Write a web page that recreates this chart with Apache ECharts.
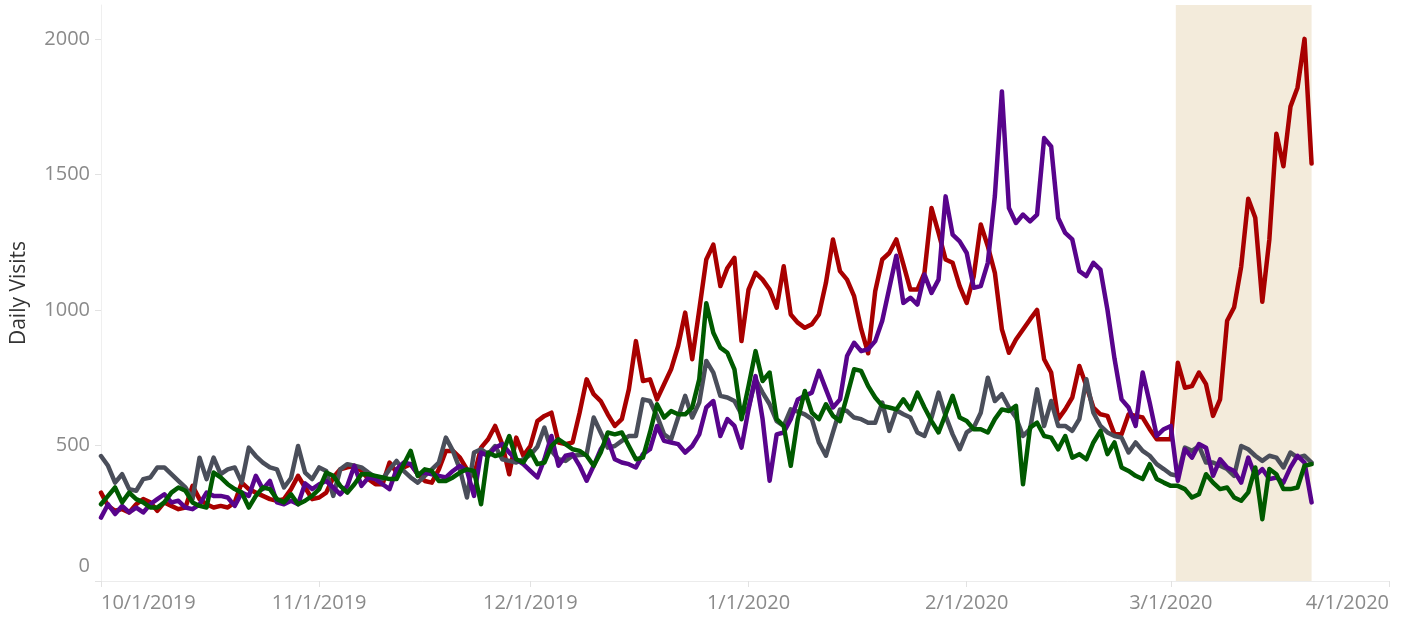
<!DOCTYPE html>
<html>
<head>
<meta charset="utf-8">
<script src="https://cdn.jsdelivr.net/npm/echarts@6/dist/echarts.min.js"></script>
<style>
  html, body { margin: 0; padding: 0; background: #ffffff; }
  #chart { width: 1403px; height: 622px; }
</style>
</head>
<body>
<div id="chart"></div>
<script>
// ---- data (daily, starting 10/1/2019) ----
const START_DATE = [2019, 9, 1]; // year, monthIndex, day
const SERIES_NAMES = ['Red', 'Gray', 'Purple', 'Green'];
const SERIES_COLORS = ['#a80000', '#4a4e5a', '#58048c', '#005a00'];

const red = [
  326,277,259,265,253,283,302,290,259,290,
  277,265,271,351,302,283,271,277,271,290,
  363,339,326,314,302,296,302,339,388,345,
  302,308,326,382,412,419,425,406,376,357,
  357,437,400,419,431,394,369,363,412,480,
  480,455,412,388,492,523,572,505,394,529,
  462,498,590,609,621,511,505,511,621,744,
  689,664,615,572,597,707,885,738,744,670,
  726,781,867,990,818,1000,1186,1241,1088,1155,
  1192,885,1075,1137,1112,1075,1008,1161,983,953,
  934,947,983,1100,1260,1143,1112,1051,930,840,
  1069,1186,1210,1260,1168,1075,1075,1137,1376,1284,
  1186,1174,1088,1026,1125,1315,1235,1137,928,842,
  891,928,965,1000,818,769,597,633,677,793,
  719,640,615,609,541,541,615,609,603,560,
  523,523,523,805,713,719,769,726,609,670,
  960,1010,1160,1410,1340,1030,1260,1650,1530,1750,
  1820,2000,1540
];

const gray = [
  461,425,363,394,339,333,376,382,419,419,
  394,369,345,302,455,376,455,394,412,419,
  363,492,461,437,419,412,345,380,498,400,
  376,419,406,314,412,431,425,419,400,382,
  376,412,443,406,382,363,388,412,437,529,
  480,412,308,474,486,468,498,449,443,437,
  449,465,495,566,480,449,443,462,465,468,
  603,548,492,498,517,535,535,670,664,609,
  541,523,603,683,603,658,812,769,683,677,
  664,615,640,744,695,652,590,572,633,625,
  615,597,511,462,548,633,627,603,597,584,
  584,658,554,630,615,603,548,535,603,695,
  609,541,486,548,566,621,750,664,689,640,
  603,535,560,707,572,664,572,572,554,597,
  744,621,572,548,535,529,474,511,480,462,
  431,413,394,388,492,480,498,437,437,425,
  413,388,498,486,462,443,462,455,419,474,
  455,462,437
];

const purple = [
  234,283,247,277,253,271,253,283,302,320,
  290,296,271,265,283,326,314,314,308,277,
  326,314,388,339,369,290,283,296,283,360,
  339,357,369,345,320,351,425,351,382,376,
  357,339,412,437,431,394,400,394,388,382,
  406,425,406,314,474,461,492,505,474,449,
  431,406,382,449,535,425,462,468,425,370,
  425,486,523,449,437,431,419,468,486,572,
  517,511,505,474,498,541,640,664,535,597,
  572,492,633,756,597,370,541,548,597,670,
  683,695,775,707,640,670,830,879,848,855,
  885,960,1080,1200,1026,1045,1020,1131,1063,1112,
  1419,1278,1253,1210,1082,1088,1174,1420,1806,1376,
  1321,1352,1327,1352,1634,1603,1339,1284,1260,1143,
  1125,1174,1149,1000,820,670,640,572,769,658,
  535,560,572,370,486,455,505,492,388,449,
  419,406,363,455,388,413,376,382,363,419,
  462,437,290
];

const green = [
  283,314,345,290,326,302,290,271,271,290,
  326,345,333,290,277,271,400,382,357,339,
  326,271,314,345,339,302,290,320,283,296,
  314,339,400,388,351,326,357,394,394,388,
  382,376,376,430,480,388,412,406,369,369,
  382,400,412,406,283,474,461,468,535,449,
  437,480,431,437,498,523,505,486,480,462,
  425,474,548,541,548,498,449,455,548,652,
  603,627,615,615,640,744,1025,916,861,842,
  781,597,719,848,738,769,597,572,425,597,
  701,621,597,652,609,590,683,781,775,719,
  677,646,640,633,670,633,695,640,590,548,
  615,683,603,590,560,560,548,597,633,627,
  646,357,566,584,535,529,486,535,455,468,
  449,511,554,468,511,419,406,388,376,431,
  376,363,351,351,339,308,320,394,363,339,
  345,308,296,327,419,228,413,394,339,339,
  345,425,431
];

// x axis tick dates and labels
const TICK_DATES = [[2019,9,1],[2019,10,1],[2019,11,1],[2020,0,1],[2020,1,1],[2020,2,1],[2020,3,1]];
const TICK_LABELS = ['10/1/2019','11/1/2019','12/1/2019','1/1/2020','2/1/2020','3/1/2020','4/1/2020'];
const Y_TICKS = [0, 500, 1000, 1500, 2000];
// highlighted period (shaded band), [y, m, d, hour]
const SHADE_START = [2020, 2, 1, 17];
const SHADE_END = [2020, 2, 21, 0];

// ---- build ----
const DAY = 86400000;
function ts(a) { return Date.UTC(a[0], a[1], a[2], a[3] || 0); }
const startTs = ts(START_DATE);
function dayOf(a) { return (ts(a) - startTs) / DAY; }
function pairs(arr) { return arr.map((v, i) => [i, v]); }

const tickDays = TICK_DATES.map(dayOf);
const allData = [red, gray, purple, green];

const chart = echarts.init(document.getElementById('chart'), null, { renderer: 'canvas' });

const FONT = 'Open Sans';
const series = [{
  type: 'line',
  name: 'shade',
  data: [],
  z: 1,
  silent: true,
  markArea: {
    silent: true,
    itemStyle: { color: '#f3ebdb' },
    data: [[{ xAxis: dayOf(SHADE_START) }, { xAxis: dayOf(SHADE_END) }]]
  }
}];
allData.forEach((arr, k) => {
  series.push({
    type: 'line',
    name: SERIES_NAMES[k],
    data: pairs(arr),
    showSymbol: false,
    symbol: 'none',
    z: 3 + k,
    lineStyle: { color: SERIES_COLORS[k], width: 4.5, join: 'round', cap: 'round' },
    itemStyle: { color: SERIES_COLORS[k] },
    emphasis: { disabled: true }
  });
});

chart.setOption({
  animation: false,
  backgroundColor: '#ffffff',
  grid: { left: 101, right: 14, top: 5, bottom: 41, containLabel: false, outerBoundsMode: 'none' },
  xAxis: {
    type: 'value',
    min: tickDays[0],
    max: tickDays[tickDays.length - 1],
    axisLine: { show: true, lineStyle: { color: '#ececec', width: 1 } },
    axisTick: { show: true, length: 6, lineStyle: { color: '#e2e2e2' }, customValues: tickDays },
    splitLine: { show: false },
    axisLabel: {
      customValues: tickDays,
      formatter: function (v) {
        const i = tickDays.indexOf(v);
        return i >= 0 ? TICK_LABELS[i] : '';
      },
      alignMinLabel: 'left',
      alignMaxLabel: 'right',
      color: '#8a8a8a',
      fontFamily: FONT,
      fontSize: 20,
      margin: 12
    }
  },
  yAxis: {
    type: 'value',
    min: 0,
    max: 2125,
    name: 'Daily Visits',
    nameLocation: 'middle',
    nameRotate: 90,
    nameGap: 71,
    nameTextStyle: { color: '#333333', fontFamily: FONT, fontSize: 21 },
    axisLine: { show: true, lineStyle: { color: '#efefef', width: 1 } },
    axisTick: { show: true, length: 6, lineStyle: { color: '#e2e2e2' }, customValues: Y_TICKS },
    splitLine: { show: false },
    axisLabel: {
      customValues: Y_TICKS,
      color: '#8a8a8a',
      fontFamily: FONT,
      fontSize: 20,
      margin: 11,
      formatter: function (v) { return v === 0 ? '{z|0}' : String(v); },
      rich: { z: { color: '#8a8a8a', fontFamily: FONT, fontSize: 20, padding: [0, 0, 30, 0] } }
    }
  },
  series: series
});
</script>
</body>
</html>
